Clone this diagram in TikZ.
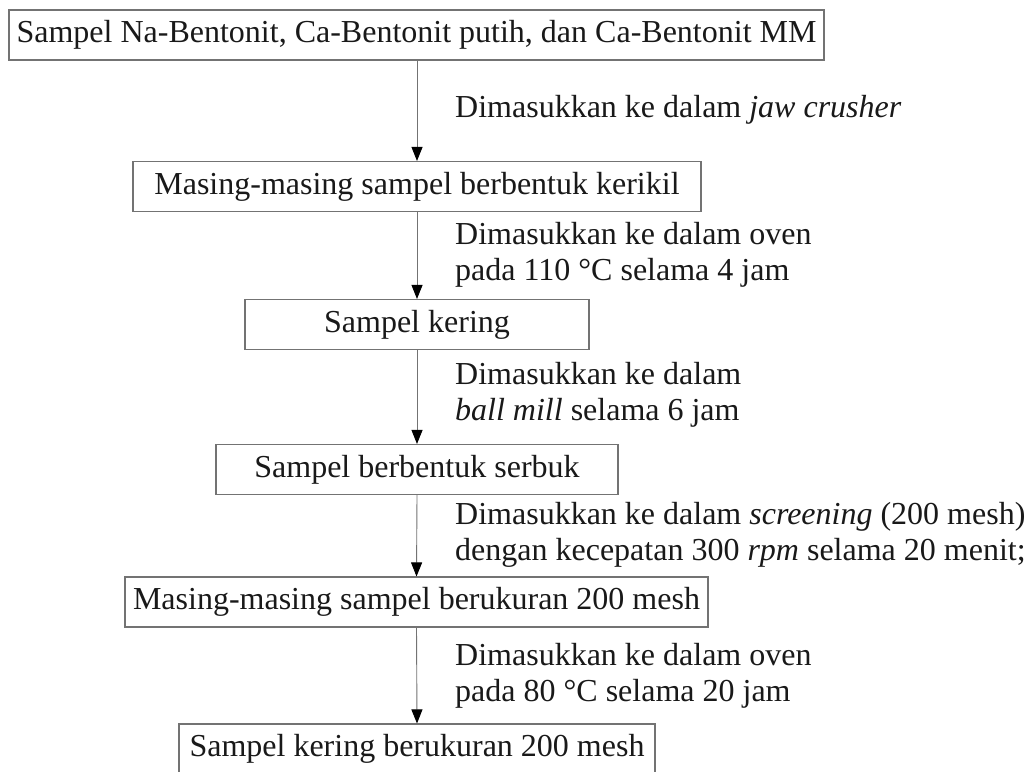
\documentclass[tikz,border=0pt]{standalone}
\usepackage{fontspec}
\setmainfont{Liberation Serif}
\usetikzlibrary{arrows.meta}
\begin{document}
\begin{tikzpicture}[x=1pt,y=-1pt,
  stepbox/.style={draw=black!55,line width=1.1pt,inner sep=0pt,minimum height=50pt,
    font=\fontsize{32}{36}\selectfont,text=black!90},
  lbl/.style={anchor=west,align=left,inner sep=0pt,font=\fontsize{32}{36}\selectfont,text=black!90},
  flow/.style={draw=black!55,line width=0.9pt,-{Triangle[length=14pt,width=11pt,color=black]}}]
\useasboundingbox[fill=white] (0,0) rectangle (1024,771);
\node[stepbox,minimum width=815pt] (b1) at (416.5,35) {Sampel Na-Bentonit, Ca-Bentonit putih, dan Ca-Bentonit MM};
\node[stepbox,minimum width=568pt] (b2) at (417,186.5) {Masing-masing sampel berbentuk kerikil};
\node[stepbox,minimum width=344pt] (b3) at (417,324.5) {Sampel kering};
\node[stepbox,minimum width=402pt] (b4) at (417,469.5) {Sampel berbentuk serbuk};
\node[stepbox,minimum width=583pt] (b5) at (416.5,602) {Masing-masing sampel berukuran 200 mesh};
\node[stepbox,minimum width=476pt] (b6) at (417,749) {Sampel kering berukuran 200 mesh};
\draw[flow] (b1.south -| 417,0) -- (b2.north -| 417,0);
\draw[flow] (b2.south) -- (b3.north);
\draw[flow] (b3.south) -- (b4.north);
\draw[flow] (b4.south) -- (b5.north);
\draw[flow] (b5.south) -- (b6.north);
\node[lbl] (l1) at (455,110) {Dimasukkan ke dalam \textit{jaw crusher}};
\node[lbl] (l2) at (455,254.5) {Dimasukkan ke dalam oven\\pada 110 °C selama 4 jam};
\node[lbl] (l3) at (455,395) {Dimasukkan ke dalam\\\textit{ball mill} selama 6 jam};
\node[lbl] (l4) at (455,535) {Dimasukkan ke dalam \textit{screening} (200 mesh)\\dengan kecepatan 300 \textit{rpm} selama 20 menit;};
\node[lbl] (l5) at (455,675.5) {Dimasukkan ke dalam oven\\pada 80 °C selama 20 jam};
\end{tikzpicture}
\end{document}
